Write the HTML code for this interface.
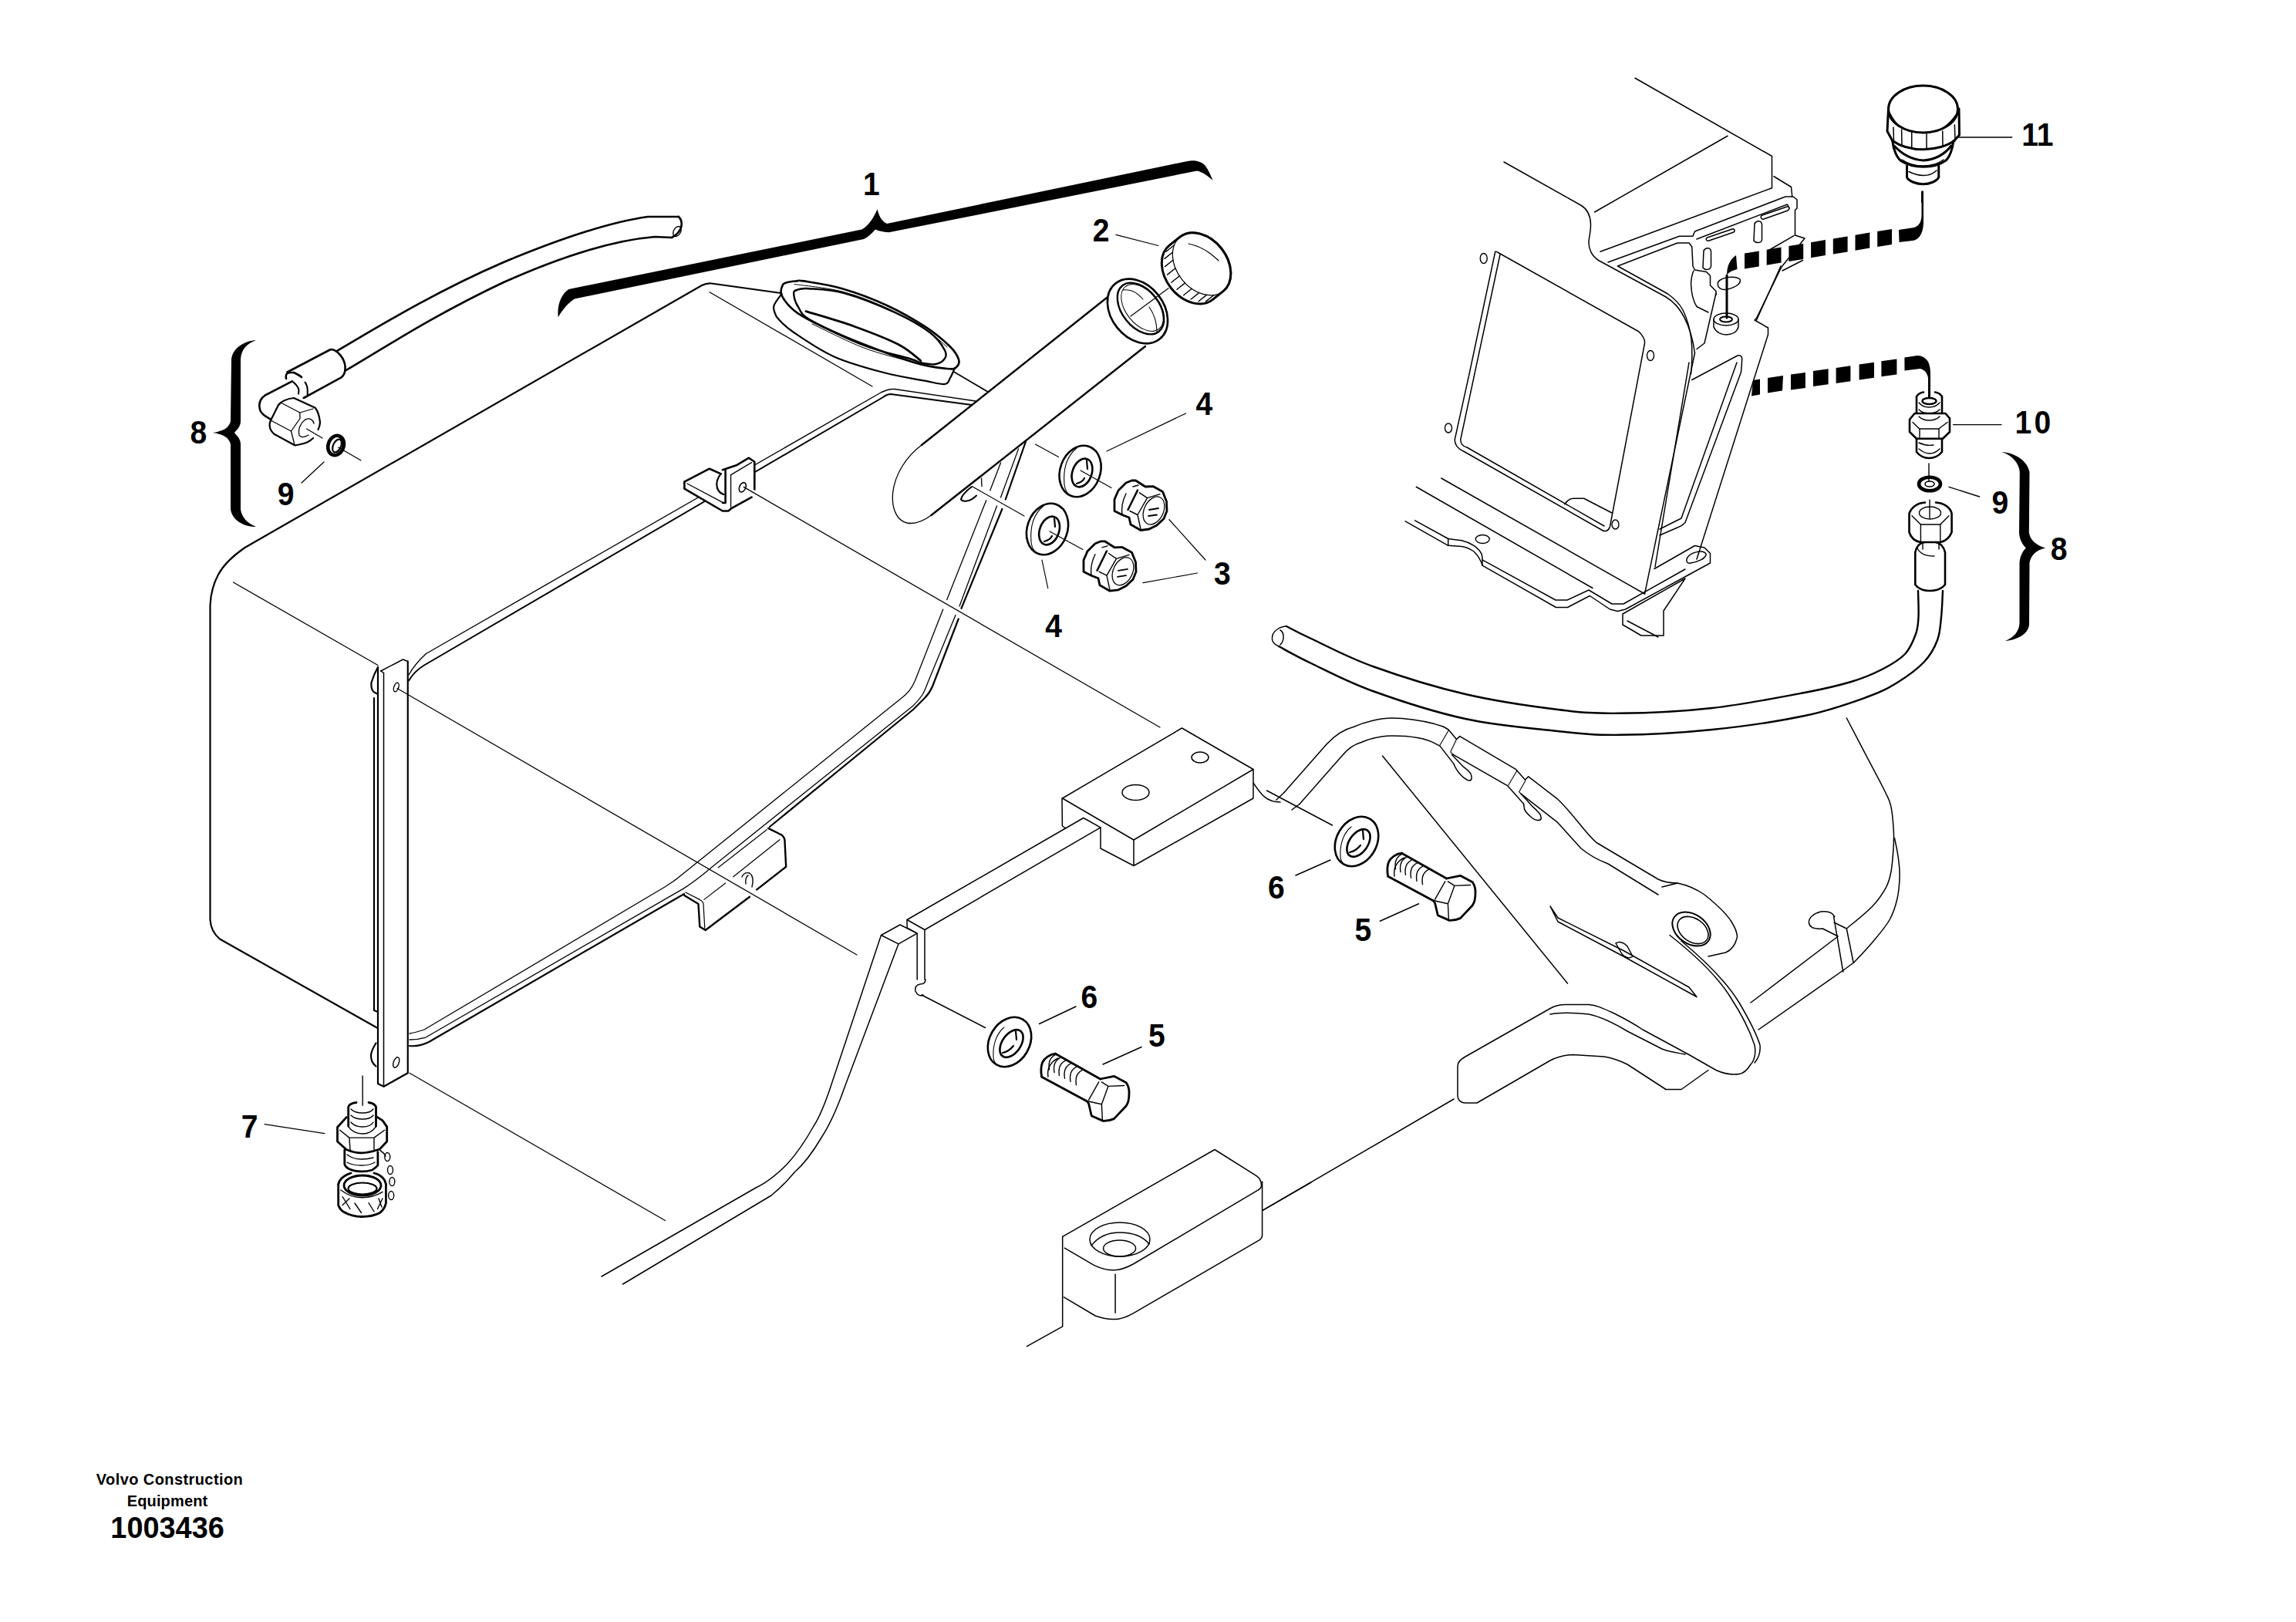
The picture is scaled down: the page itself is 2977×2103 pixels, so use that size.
<!DOCTYPE html>
<html><head><meta charset="utf-8"><style>
html,body{margin:0;padding:0;background:#fff;}
body{width:2977px;height:2103px;overflow:hidden;position:relative;}
svg{position:absolute;left:0;top:0;}
.t{font-family:"Liberation Sans",sans-serif;font-weight:bold;fill:#000;}
</style></head><body>
<svg width="2977" height="2103" viewBox="0 0 2977 2103" xmlns="http://www.w3.org/2000/svg">
<g fill="none" stroke="#000" stroke-linecap="round" stroke-linejoin="round">

<!-- brace 8 left -->
<path fill="#000" stroke="none" d="M332,441 C318,442 302,450 300,466 L299,546 C297,555 289,559 276,561 C289,563 297,567 299,576 L299,660 C301,676 318,683 332,683 C320,678 313,670 312,660 L312,576 C312,568 306,564 304,561 C306,558 312,554 312,546 L312,466 C313,452 320,446 332,441 Z"/>
<!-- hose left -->
<g stroke-width="2.6">
<path d="M436,455.6 C480,430 560,380 653,340 C720,312 790,288 840,281 L880,281"/>
<path d="M448.75,480 C500,450 560,410 653,366 C720,336 790,312 849,307 L871,308"/>
<path d="M880,281 C886,287 886,300 871,308"/>
<ellipse cx="878" cy="300" rx="4.5" ry="7" transform="rotate(30 878 300)" stroke-width="1.4"/>
<path d="M372.5,482.5 L428.75,453 C438,453 447,466 447.5,475 C448,482 446,487 442.5,489.4 L393.75,516"/>
<path d="M371,491 C370,484 372,482.5 381,483 C385,485 389,487 391,489"/>
<path d="M378.75,494.4 L343.75,512.5 C336,518 335,525 337.5,532.5 C340,538 346,541 351,543.75"/>
</g>


<!-- nut & washer left -->
<g stroke-width="2.2">
<path d="M361,525 C365,520 372,517 381,516 L408.75,528.75 C412,533 414,538 415,547.5 C415,551 414,554 412.5,557"/>
<path d="M406,568 C402,572 398,575 382.5,577.5 L355,562.5 C352,559 350,557 350,554 C349,550 350,547 351,545 L361,525"/>
</g>
<g stroke-width="1.3">
<path d="M365,522.5 L388.75,535 L406,530"/>
<path d="M388.75,535 L389,542.5 L377.5,559 L351,545"/>
<path d="M377.5,559 L382,577"/>
<path d="M396,544 C390,548 386,556 388,564 C390,568 395,567 400,564"/>
<path d="M396,544 C402,541 406,545 407,549"/>
<path d="M397.5,556 L418,568"/>
<path stroke-width="2" d="M378.75,494.4 C383,497 387,502 387.5,506 L387,510.6 M395.6,495.6 C398,499 398.75,503 398.75,506 L398.75,512.5"/>
<path d="M438.75,580 L468,597"/>
<path d="M420,599 L391,626"/>
</g>
<ellipse cx="435.6" cy="577.5" rx="10" ry="13" transform="rotate(20 435.6 577.5)" stroke-width="4.5"/>
<ellipse cx="437" cy="578" rx="5" ry="9" transform="rotate(25 437 578)" stroke-width="2.2"/>

<!-- TANK -->
<g stroke-width="2.2">
<!-- top left edge and corner -->
<path d="M910,370 C914,368 918,367 922.5,367.5 L1012.5,380"/>
<path d="M910,370 L317.5,710 C300,722 290,732 283,745 C276,758 273,772 272.5,785 L272.5,1192.5 C273,1200 276,1210 285,1217.5 L488.75,1332.5"/>
</g>
<g stroke-width="1.3">
<path d="M920,378.75 L1131,501"/>
<path d="M302.5,755 L490,862.5"/>
<path d="M531,1391.25 L862.5,1582.5"/>
<!-- leader lines from holes -->
<path d="M515,892.5 L1111,1238"/>
</g>
<!-- filler ring boss -->
<path stroke-width="2.2" d="M1013.5,381.0 C1011.9,383.4 1005.2,391.7 1003.7,395.7 C1002.2,399.7 1003.4,401.8 1004.4,404.9 C1005.4,407.9 1005.5,409.6 1009.6,414.0 C1013.7,418.4 1017.2,422.9 1029.2,431.0 C1041.2,439.1 1061.9,453.7 1081.5,462.4 C1101.1,471.1 1127.2,478.1 1146.8,483.3 C1166.4,488.5 1186.0,491.2 1199.0,493.7 C1212.0,496.1 1219.5,498.6 1225.0,498.0 C1230.5,497.4 1229.8,493.5 1232.0,490.0 C1234.2,486.5 1237.0,479.2 1238.0,477.0"/>
<path stroke-width="2.6" d="M1014.8,369.6 C1016.0,366.8 1018.0,366.9 1021.0,366.0 C1024.0,365.1 1029.5,364.7 1033.0,364.4 C1036.5,364.1 1032.2,362.8 1042.0,364.4 C1051.8,366.0 1074.1,369.0 1092.0,374.2 C1109.9,379.4 1131.6,387.5 1149.4,395.7 C1167.2,403.9 1185.3,414.3 1199.0,423.2 C1212.7,432.1 1224.4,442.2 1231.7,449.3 C1239.0,456.4 1241.6,461.6 1243.0,466.0 C1244.4,470.4 1242.5,474.0 1240.0,476.0 C1237.5,478.0 1237.0,479.0 1228.0,478.0 C1219.0,477.0 1206.1,476.3 1186.0,470.2 C1165.9,464.1 1129.4,450.2 1107.6,441.5 C1085.8,432.8 1068.4,424.5 1055.3,418.0 C1042.2,411.5 1036.2,408.2 1029.2,402.3 C1022.2,396.4 1015.9,388.1 1013.5,382.7 C1011.1,377.2 1013.5,372.4 1014.8,369.6 Z"/>
<path stroke-width="1" d="M1030.0,368.5 C1040.3,370.1 1072.2,372.9 1092.0,378.0 C1111.8,383.1 1131.2,390.9 1149.0,399.0 C1166.8,407.1 1185.8,418.0 1199.0,426.5 C1212.2,435.0 1223.2,446.1 1228.0,450.0"/>
<path stroke-width="2.4" d="M1029.2,381.4 C1028.9,377.7 1029.7,377.2 1033.0,376.0 C1036.3,374.8 1038.5,373.5 1048.8,374.2 C1059.0,374.9 1076.0,374.9 1094.5,380.0 C1113.0,385.1 1141.4,396.4 1159.9,404.9 C1178.4,413.4 1194.7,422.7 1205.6,431.0 C1216.5,439.3 1222.2,448.6 1225.2,454.5 C1228.2,460.4 1226.1,463.4 1223.9,466.3 C1221.7,469.2 1217.1,471.6 1212.1,472.2 C1207.1,472.8 1199.2,471.4 1193.8,470.2 C1188.4,469.0 1191.7,468.7 1179.5,465.0 C1167.3,461.3 1142.0,456.3 1120.7,448.0 C1099.4,439.7 1065.7,423.6 1051.4,415.3 C1037.1,407.0 1038.7,403.6 1035.0,398.0 C1031.3,392.4 1029.5,385.1 1029.2,381.4 Z"/>
<path stroke-width="2.8" d="M1044.9,403.6 C1055.4,406.9 1087.6,416.0 1107.6,423.2 C1127.6,430.4 1150.7,439.3 1165.1,446.7 C1179.5,454.1 1189.0,464.1 1193.8,467.6"/>
<path stroke-width="1" d="M1053.0,420.0 C1064.2,425.2 1098.8,442.9 1120.0,451.0 C1141.2,459.1 1166.7,464.8 1180.0,468.5 C1193.3,472.2 1196.7,472.2 1200.0,473.0"/>
<path stroke-width="1.8" d="M1237.5,482.5 L1280,507.5"/>
<!-- front flange frame top -->
<g stroke-width="1.4">
<path d="M552.5,847.5 L1142.5,508.75 C1148,506 1154,504 1160,504.5 L1265,520"/>
<path d="M530,875 C535,866 541,858 552.5,847.5"/>
</g>
<g stroke-width="2.0">
<path d="M530,882.5 C535,874 541,868 550,862.5 L1145,515 C1149,512 1152,511 1155,511 L1260,525"/>
</g>
<!-- flange frame right descending -->
<g stroke-width="1.3">
<path d="M1297.5,600 L1283.75,636"/>
<path d="M1278.75,648.75 L1227.75,777.5"/>
<path d="M1222.75,790 L1186.5,882.5 C1182,893 1176,900 1169,905 L878,1139 C873,1143 868,1146 862,1150 L550,1335 C544,1337 538,1339 531,1340"/>
<path d="M1320.6,581.9 L1297.5,645"/>
<path d="M1292.5,656 L1244,786"/>
<path d="M1239,797.5 L1204,882.5 C1201,890 1199,896 1196.5,900 C1192,907 1188,911 1184,915 L925.8,1122 C915,1131 905,1140 887,1151.6 L552,1345 C545,1347 538,1348 531,1348"/>
</g>
<g stroke-width="2.2">
<path d="M1330,572.5 L1303.75,647.5"/>
<path d="M1299.4,660 L1246.5,788.75"/>
<path d="M1242.75,802.5 L1209,890 C1206,897 1203,901 1199,905 L1184,920 L998,1072"/>
</g>
<path stroke-width="1.3" d="M1272.5,620 L1273,630.6"/>
<path stroke-width="2" d="M1260,631 C1252,637 1247,642 1246,647.5 C1248,651 1258,651 1266,642.5"/>
<path stroke-width="1.2" d="M1261,631 L1328,669"/>
<!-- left plate -->
<g stroke-width="2.2">
<path d="M528.75,857.5 L528.75,1391.25 L497.5,1408.75 L490,1405 L490,865"/>
<path d="M490,865 C486,872 483,880 481.5,885 C481,890 482,895 485,897.5 L490,900"/>
<path d="M485,905 L485,1310 L490,1312"/>
<path d="M487.5,1352.5 C484,1358 481.5,1364 481,1367.5 C481,1374 482,1378 487.5,1382.5"/>
</g>
<g stroke-width="1.5">
<path d="M493.75,870 L522.5,855 L528.75,857.5"/>
<path d="M497.5,872.5 L497.5,1408.75"/>
<path d="M493.75,870 L497.5,872.5"/>
</g>
<ellipse cx="513.75" cy="891" rx="3" ry="6" transform="rotate(20 513.75 891)" stroke-width="1.4"/>
<ellipse cx="513.75" cy="1377.5" rx="3.5" ry="7" transform="rotate(20 513.75 1377.5)" stroke-width="1.4"/>
<!-- frame lower-left -->
<path stroke-width="2.2" d="M531,1356 C540,1357 548,1355 556,1351 L887,1159"/>
<path stroke-width="1.2" d="M931.4,1124.8 L994.2,1075.8"/>
<!-- bracket on top frame -->
<polygon fill="#fff" stroke="none" points="887.4,624.7 919.9,607.7 934.7,614.4 936.9,609.2 954.7,603.3 971,593.7 978.3,598.8 978.3,634.4 974.6,644.7 948.8,658.8 944.3,662.5 936.9,662.5 887.4,633.6"/>
<g stroke-width="2.6">
<path d="M887.4,624.7 L919.9,607.7 L934.7,614.4"/>
<path d="M887.4,624.7 L887.4,633.6 L936.9,662.5 L944.3,662.5 L948.8,658.8 L974.6,644.7"/>
<path d="M936.9,609.2 L954.7,603.3 L971,593.7 L978.3,598.8 L978.3,634.4"/>
<path d="M940.6,610 L940.6,652 L937,652"/>
</g>
<g stroke-width="1.3">
<path d="M891,627 L937,651.4"/>
<path d="M947.3,615.9 L974.6,599.6"/>
<path d="M947.6,615.9 L947.6,657.3"/>
<path d="M964.3,631.4 L1504,943"/>
</g>
<path stroke-width="2.2" d="M934.7,614.4 C930,620 928,626 930,633 C932,638 935,640 938.4,641"/>
<ellipse cx="962.8" cy="631.8" rx="4" ry="6.5" transform="rotate(25 962.8 631.8)" stroke-width="1.6"/>


<!-- filler pipe -->
<g stroke-width="2.4">
<path d="M1435,386 L1195,577"/>
<path d="M1485,449 L1207.5,668"/>
</g>
<path stroke-width="1.3" d="M1195,577 C1175,592 1160,615 1157.5,640 C1156,660 1163,675 1176,678 C1186,680 1198,675 1207.5,668"/>
<ellipse cx="1475" cy="403.5" rx="46" ry="34" transform="rotate(51.5 1475 403.5)" stroke-width="2.6"/>
<ellipse cx="1479" cy="400" rx="38" ry="24" transform="rotate(51.5 1479 400)" stroke-width="2.4"/>
<ellipse cx="1481" cy="399" rx="35" ry="21" transform="rotate(51.5 1481 399)" stroke-width="1"/>
<path stroke-width="1.1" d="M1456,376 C1465,375 1472,377 1482,388 M1490,398 C1497,408 1500,420 1500,430"/>
<path stroke-width="1.2" d="M1466,410 L1515,373.75"/>
<path stroke-width="1.2" d="M1446.9,304.4 L1501.9,318.5"/>
<!-- cap -->
<path stroke-width="3" d="M1516.4,317.9 L1530.5,306.8 A45,33 51.5 0 1 1586.5,377.2 L1572.5,388.4 A45,33 51.5 0 1 1516.4,317.9"/>
<ellipse cx="1558.5" cy="342" rx="45" ry="33" transform="rotate(51.5 1558.5 342)" stroke-width="1.2"/>
<path stroke-width="1.4" d="M1582.3,379.9 l-10.5,8.4 M1574.0,382.5 l-10.5,8.4 M1564.5,382.4 l-10.5,8.4 M1554.7,379.6 l-10.5,8.4 M1545.2,374.3 l-10.5,8.4 M1536.5,366.9 l-10.5,8.4 M1529.3,357.8 l-10.5,8.4 M1524.0,347.7 l-10.5,8.4 M1521.0,337.2 l-10.5,8.4 M1520.5,327.0 l-10.5,8.4 M1522.5,317.8 l-10.5,8.4 M1526.9,310.2 l-10.5,8.4"/>
<path stroke-width="1.2" d="M1541,316 C1550,318 1560,322 1567.5,327.5 C1572,331 1576,334 1580,338"/>
<!-- washers 4 -->
<g>
<ellipse cx="1400.6" cy="611" rx="26" ry="34" transform="rotate(20 1400.6 611)" stroke-width="2.6"/>
<path stroke-width="1.1" d="M1396,581 C1385,590 1378,605 1380,628 C1381,636 1384,640 1388,642"/>
<ellipse cx="1403" cy="613" rx="12.5" ry="19" transform="rotate(20 1403 613)" stroke-width="2.6"/>
<path stroke-width="2.2" d="M1409,597 L1410,608 M1396,627 C1400,626 1404,624 1406,620"/>
<ellipse cx="1358" cy="686" rx="26" ry="34" transform="rotate(20 1358 686)" stroke-width="2.6"/>
<path stroke-width="1.1" d="M1353,656 C1342,665 1335,680 1337,703 C1338,711 1341,715 1345,717"/>
<ellipse cx="1360.6" cy="688" rx="12.5" ry="19" transform="rotate(20 1360.6 688)" stroke-width="2.6"/>
<path stroke-width="2.2" d="M1367,672 L1368,683 M1354,702 C1358,701 1362,699 1364,695"/>
</g>
<g stroke-width="1.2">
<path d="M1342.5,576 L1372.5,592.5"/>
<path d="M1401,610 L1441,632.5"/>
<path d="M1361,689 L1404,712.5"/>
<path d="M1435,585 L1537.5,536"/>
<path d="M1351,726 L1358.75,762.75"/>
<path d="M1516,673.75 L1563,726"/>
<path d="M1482,755.6 L1552.5,743"/>
</g>
<polygon stroke-width="2.8" points="1445.0,662.5 1445.0,647.5 1450.0,636.0 1460.0,626.0 1467.5,623.0 1472.5,623.0 1485.0,631.0 1495.0,630.6 1507.5,637.5 1512.5,650.0 1513.0,662.5 1509.0,672.5 1500.0,681.0 1490.0,686.0 1479.0,687.5 1466.0,680.0 1464.0,671.0 1455.0,667.5"/>
<path stroke-width="2.4" d="M1462.5,661.0 L1475.0,635.6"/>
<path stroke-width="1.4" d="M1477.5,638.8 L1487.5,645.6 L1504.0,640.6 M1487.5,645.6 L1475.0,667.5 L1465.0,662.5 M1475.0,667.5 L1479.0,686.0 M1460.0,640.0 C1455.0,650.0 1454.0,660.0 1455.0,667.5 M1469.0,631.0 L1476.0,629.0"/>
<ellipse cx="1496" cy="662" rx="12.5" ry="19" transform="rotate(25 1496 662)" stroke-width="1.3"/>
<path stroke-width="1.8" d="M1490.0,661.0 L1502.0,659.0 M1489.0,669.0 L1500.0,667.5"/>
<polygon stroke-width="2.8" points="1405.0,741.2 1405.0,726.2 1410.0,714.8 1420.0,704.8 1427.5,701.8 1432.5,701.8 1445.0,709.8 1455.0,709.4 1467.5,716.2 1472.5,728.8 1473.0,741.2 1469.0,751.2 1460.0,759.8 1450.0,764.8 1439.0,766.2 1426.0,758.8 1424.0,749.8 1415.0,746.2"/>
<path stroke-width="2.4" d="M1422.5,739.8 L1435.0,714.4"/>
<path stroke-width="1.4" d="M1437.5,717.5 L1447.5,724.4 L1464.0,719.4 M1447.5,724.4 L1435.0,746.2 L1425.0,741.2 M1435.0,746.2 L1439.0,764.8 M1420.0,718.8 C1415.0,728.8 1414.0,738.8 1415.0,746.2 M1429.0,709.8 L1436.0,707.8"/>
<ellipse cx="1456" cy="740.75" rx="12.5" ry="19" transform="rotate(25 1456 740.75)" stroke-width="1.3"/>
<path stroke-width="1.8" d="M1450.0,739.8 L1462.0,737.8 M1449.0,747.8 L1460.0,746.2"/>


<!-- brace 1 -->
<path fill="#000" stroke="none" d="M723.75,411.25 C722,395 728,381 737.5,375 L1117.5,297.5 C1127,292 1133,282 1137.5,271.25 C1140,282 1145,288 1150,290 L1539.7,209 C1550,207 1558,210 1562,214 C1567,220 1570,228 1572.6,234 C1567,229 1560,223 1552,221.5 L1270,278 L1152.5,301.25 C1145,301 1138,299 1135,297.5 C1130,303 1125,308 1120,310 L745,387.5 C738,392 730,400 723.75,411.25 Z"/>
<!-- RIGHT CAB STRUCTURE -->
<g stroke-width="1.5">
<path d="M2120,101.25 L2297.5,202.5 L2297.5,243.75 L2075,326.25"/>
<path d="M2067.5,275 L2240,176.25"/>
<path d="M1950,210 L2050,266.25 C2058,271 2062,280 2062.5,290 C2063,300 2060,308 2060,315 C2060,323 2064,332 2072.5,337.5 L2160,385 C2180,397 2192,420 2197.5,457.5"/>
<path d="M2300,228.75 L2322.5,242.5 L2323.75,255"/>
<path d="M2085,340 L2177.5,306.25 L2195,306.25 L2197.5,300 L2315,255 L2325,255 L2330,258.75 L2330,270 L2327.5,272.5 L2327.5,305"/>
<path d="M2097.5,345 L2175,315 L2190,315 L2193.75,320 L2195,345 L2197.5,350 L2212.5,352.5 L2217.5,357.5 L2217.5,370 L2225,377.5 L2225,382.5"/>
<path d="M2200,310 L2317.5,265 L2320,270"/>
<path d="M2097.5,345 L2162.5,381 C2172,388 2178,394 2182,402 C2187,412 2191,425 2193,440 C2194.5,455 2194,470 2192.5,485"/>
<path d="M2215,405 L2200,397.5 C2195,390 2193,380 2192.5,367.5 C2193,360 2194,355 2196,351"/>
<path d="M2225,380 L2210,445 L2200,452.5"/>
<path d="M2327.5,305 L2340,309 L2310,346 L2277.5,412.5 L2275,415 L2292.5,425 L2292.5,433.75 L2200,725"/>
<path d="M2309,345 L2277.5,415"/>
<path d="M2292.5,325 L2326,305.6"/>
<path d="M2311,351 L2337.5,337.5"/>
<path d="M2227.5,366 C2232,359 2250,357 2256,362 C2258,367 2252,372 2240,375 C2232,377 2226,373 2227.5,366 Z"/>
<path d="M2213.75,308 L2246,297 C2249,296 2250,299 2248,301 L2216,312 C2212,313 2211,309 2213.75,308 Z"/>
<path d="M2285,279 L2317,268 C2320,267 2321,271 2318,273 L2287,284 C2283,285 2282,280 2285,279 Z"/>
<path d="M2209,325 C2212,320 2218,321 2218.5,326 L2218.5,345 C2218,350 2211,351 2208,347 Z"/>
<path d="M2275,290 C2278,285 2284,286 2284.5,291 L2284.5,311 C2284,315 2277,316 2274,312 Z"/>
<!-- panel -->
<path d="M1938.75,326.25 L1905,485 L1886.25,570 C1886,576 1890,582 1897.5,585 L2077.5,687.5 C2082,690 2086,688 2087.5,682.5 L2132.5,445 C2133,440 2130,435 2125,430 L1942.5,327.5 C1940,326 1939,326 1938.75,326.25"/>
<path d="M1945,330 L1893.75,570 C1894,575 1897,579 1902,580 L2080,682"/>
<path d="M2028.75,653.75 C2032,649 2036,646.25 2040,646.25 L2053.75,646.25 L2090,665"/>
<!-- bracket post & arm -->
<path d="M2197.5,457.5 L2132.5,770"/>
<path d="M2190,470 L2146,735"/>
<path d="M2193.75,492.5 L2252.5,461.25 C2256,460 2259,462 2258.75,466 L2257.5,482.5 L2185,677.5 C2182,681 2178,683 2175,684 L2152,694"/>
<path d="M2252,470 L2180,672 L2152,686"/>
<path d="M2145,737.5 L2197.5,707.5 L2210,710 L2217.5,717.5 L2217.5,730 L2190,745"/>
<path d="M2187,725 C2190,716 2208,712 2212,718 C2213,724 2200,729 2192,730 C2188,731 2186,728 2187,725 Z"/>
<!-- base plate -->
<path d="M1868.75,620 L2132.5,770"/>
<path d="M1836.25,631.25 L2065,762.5"/>
<path d="M1822.2,675.8 L1877.7,707.3 M1834.7,674.9 L1877.7,698.5 L1877.7,707.3 M1922,725.8 L1922,733.1"/>
<path d="M1877.7,698.5 L1888.8,699.9 L1895.2,700.8 C1900,702 1904,703 1911,707.3 C1915,710 1919,714 1921.1,718.4 C1922,721 1922,724 1922,725.8 L2017,778 L2032,778 L2060,765 L2090,783 L2105,783 L2185,738"/>
<path d="M1877.7,707.3 L1895,708.5 C1900,709 1905,711 1911,715 C1915,719 1920,726 1922,733.1 L2017.5,787.5 L2032.5,787.5 L2061.25,772.5 L2087.5,790 L2097.5,792.5 L2107.5,790 L2190,745"/>
<path d="M2104,796 L2185,750 L2157,792 L2157,824 L2128,824 L2104,810 Z"/>
<path d="M2110,805 L2150,826"/>
</g>
<ellipse cx="1923.75" cy="335" rx="4.5" ry="6.5" stroke-width="1.4"/>
<ellipse cx="2140" cy="461" rx="4.5" ry="6.5" stroke-width="1.4"/>
<ellipse cx="1878" cy="555" rx="4.5" ry="6" stroke-width="1.4"/>
<ellipse cx="2094.5" cy="680" rx="4.5" ry="6" stroke-width="1.4"/>
<ellipse cx="1922.3" cy="699" rx="9" ry="5.5" stroke-width="1.4"/>
<!-- washer on cab -->
<g stroke-width="1.5">
<ellipse cx="2238" cy="414" rx="16" ry="8"/>
<ellipse cx="2238" cy="414" rx="8" ry="3.5" stroke-width="2"/>
<path d="M2222,414 L2222,424 C2225,431 2232,434 2238,434 C2245,434 2252,431 2254,424 L2254,414"/>
</g>
<path stroke-width="3" d="M2239,357 L2239,412"/>
<!-- dashed upper -->
<g fill="#000" stroke="none">
<path d="M2239,357 C2239,345 2243,336 2251,331 L2252.5,349 C2246,351 2241,353 2239,357 Z"/>
<polygon points="2262,328.5 2280.75,325.4 2280.75,345.4 2262,348.5"/>
<polygon points="2290.7,323.8 2309.5,320.6 2309.5,340.6 2290.7,343.8"/>
<polygon points="2319.4,319 2338.2,315.9 2338.2,335.9 2319.4,339"/>
<polygon points="2348.1,314.3 2366.9,311.1 2366.9,331.1 2348.1,334.3"/>
<polygon points="2376.8,309.5 2395.6,306.4 2395.6,326.4 2376.8,329.5"/>
<polygon points="2405.5,304.8 2424.3,301.6 2424.3,321.6 2405.5,324.8"/>
<polygon points="2434.2,300 2453,296.9 2453,316.9 2434.2,320"/>
<path d="M2462,298 L2482,295 C2488,293 2491,288 2491.5,280 L2491.5,255 L2494,255 L2494,290 C2493,305 2487,311 2480,312 L2462.5,314 Z"/>
</g>
<path stroke-width="3" d="M2492.5,248.75 L2492.5,262"/>
<!-- dashed lower -->
<g fill="#000" stroke="none">
<polygon points="2273,493 2282,491.5 2282,511.5 2271,513.5"/>
<polygon points="2292,490 2312,487 2311,506.5 2292,509.5"/>
<polygon points="2322,485.5 2340.9,482.9 2340.9,502.9 2322,505.5"/>
<polygon points="2351,481 2370.6,478.3 2370.6,498.3 2351,501"/>
<polygon points="2380.6,476.9 2399.4,474.2 2399.4,494.2 2380.6,496.9"/>
<polygon points="2410.6,472.4 2430,469.7 2430,489.7 2410.6,492.4"/>
<polygon points="2439.4,468.2 2459.4,465.5 2459.4,485.5 2439.4,488.2"/>
<path d="M2469.4,463.5 L2486,461 C2492,461 2497,464 2500,469 C2502,473 2503,478 2503,485 L2503,516 L2500,516 L2500,490 C2499,484 2496,480 2490,478 L2469.5,480.5 Z"/>
</g>
<!-- item 11 -->
<g stroke-width="3">
<ellipse cx="2493.5" cy="141.5" rx="45" ry="30.5"/>
<path d="M2448.5,141 L2447,170 L2453.75,182.5 C2463,189 2478,193.75 2493.75,193.75 C2510,193.75 2525,189 2533.75,182.5 L2540.5,175 L2540,141"/>
<path d="M2453.75,182.5 C2455,195 2460,205 2465,208.75 C2475,215 2485,216.25 2493.75,216.25 C2503,216.25 2515,214 2523.75,207.5 C2528,203 2531,196 2533,182.5"/>
<path stroke-width="3" d="M2456,189 C2468,202 2480,207 2493.75,208 C2508,207 2520,202 2530,189"/>
<path stroke-width="1.4" d="M2466,207 C2475,213 2485,215 2493.75,215 C2503,215 2512,213 2520,207"/>
<path d="M2472.5,215 L2472.5,230 C2475,235 2485,238.75 2493.75,238.75 C2502,238.75 2511,235 2513.75,230 L2513.75,215"/>
</g>
<g stroke-width="1.5">
<path d="M2475,222.5 C2482,226 2488,227.5 2493.75,227.5 C2500,227.5 2506,226 2511,221"/>
<path d="M2455,165 L2455.5,183 M2465.6,168 L2466,189 M2478.75,171 L2478.75,192 M2498,172.5 L2498,193.5 M2518.75,170 L2519,189 M2534.4,162 L2535,183"/>
<path d="M2450,146 C2455,156 2460,162 2466,166 C2478,171 2486,172 2493.75,172.5 C2505,172.5 2515,169 2522,164 C2530,158 2534,152 2536,149"/>
<path d="M2538.75,178 L2608.75,178"/>
</g>
<!-- item 10 -->
<g stroke-width="2.6">
<path d="M2485,536 L2485,514 C2487,511 2490,509 2494,508.5 M2509,508.5 C2513,509 2516,511 2518,514 L2518,536"/>
<path d="M2476,544 L2482.5,536 L2522.5,536 L2528,542.5 L2528,560 L2519,568.75 L2485,568.75 L2476,560 Z"/>
<path d="M2485,568.75 L2485,586 C2490,592 2496,594 2501,594 C2507,594 2513,592 2518,586 L2518,568.75"/>
<ellipse cx="2501.5" cy="520" rx="9" ry="4" stroke-width="2.4"/>
</g>
<g stroke-width="1.4">
<path d="M2488,522 C2492,527 2497,528 2501,528 C2506,528 2511,527 2515,522"/>
<path d="M2488,531 C2492,535 2497,536 2501,536 C2506,536 2511,535 2515,531"/>
<path d="M2488,540 C2492,544 2497,545 2501,545 C2506,545 2511,544 2515,540"/>
<path d="M2480,547.5 L2488.75,556 L2513.75,556 L2525,547.5"/>
<path d="M2489,556 L2489,567.5 M2514,556 L2514,567.5"/>
<path d="M2488,574 C2494,577 2500,578 2507,577"/>
<path d="M2488,582 C2494,587 2500,588 2502,588 C2508,588 2512,585 2515,582"/>
<path d="M2532.5,550.6 L2595,550.6"/>
<path d="M2501,601 L2501,624"/>
<path d="M2527,631.3 L2566.6,644"/>
<path d="M2502,648 L2502,671.5"/>
</g>
<ellipse cx="2502" cy="627.5" rx="14" ry="8.8" stroke-width="4.6"/>
<ellipse cx="2502" cy="627.5" rx="6" ry="3.5" stroke-width="1.6"/>
<!-- hose 8 right: nut, ferrule, hose -->
<g stroke-width="2.6">
<path d="M2475.5,666 L2475.5,690 C2478,698 2484,702 2490.4,703 L2515.8,703 C2522,702 2528,697 2530.6,690 L2530.6,666 C2529,658 2520,652 2510,651.5 M2496,651.5 C2486,652 2478,658 2475.5,666"/>
<path d="M2483.3,716 L2483.3,758 C2488,764 2495,766 2502,766 C2510,766 2517,764 2522,758 L2522,716 C2520,708 2515,704 2510,703 M2495,703 C2489,704 2485,708 2483.3,716"/>
</g>
<g stroke-width="1.4">
<path d="M2479,668.7 L2490.4,680 L2515.8,680 L2527,668.7"/>
<path d="M2490.4,680 L2490.4,702.6 M2515.8,680 L2515.8,702.6"/>
<ellipse cx="2502.5" cy="665" rx="14" ry="8"/>
<path d="M2486,711 C2490,718 2496,721 2508,721"/>
<path d="M2493,705 L2493,712 M2514,705 L2514,712"/>
</g>
<g stroke-width="2.4">
<path d="M2487.0,766.0 C2487.1,771.7 2488.0,790.7 2487.5,800.0 C2487.0,809.3 2486.9,814.0 2484.0,822.0 C2481.1,830.0 2477.3,840.3 2470.0,848.0 C2462.7,855.7 2451.7,862.0 2440.0,868.0 C2428.3,874.0 2416.7,879.0 2400.0,884.0 C2383.3,889.0 2370.0,892.3 2340.0,898.0 C2310.0,903.7 2260.0,913.5 2220.0,918.0 C2180.0,922.5 2133.3,924.5 2100.0,924.8 C2066.7,925.1 2053.3,924.1 2020.0,920.0 C1986.7,915.9 1940.0,909.3 1900.0,900.0 C1860.0,890.7 1813.3,876.0 1780.0,864.0 C1746.7,852.0 1718.7,836.7 1700.0,828.0 C1681.3,819.3 1673.3,814.7 1668.0,812.0"/>
<path d="M2519.0,766.0 C2518.7,771.7 2518.2,789.3 2517.0,800.0 C2515.8,810.7 2515.7,820.3 2512.0,830.0 C2508.3,839.7 2503.7,848.8 2495.0,858.0 C2486.3,867.2 2472.5,877.3 2460.0,885.0 C2447.5,892.7 2440.0,896.8 2420.0,904.0 C2400.0,911.2 2373.3,921.0 2340.0,928.0 C2306.7,935.0 2260.0,941.9 2220.0,946.0 C2180.0,950.1 2133.3,952.5 2100.0,952.8 C2066.7,953.1 2053.3,951.5 2020.0,948.0 C1986.7,944.5 1940.0,940.7 1900.0,932.0 C1860.0,923.3 1813.3,908.0 1780.0,896.0 C1746.7,884.0 1720.3,869.7 1700.0,860.0 C1679.7,850.3 1665.0,841.7 1658.0,838.0"/>
</g>
<path stroke-width="1.5" d="M1668,812 C1660,812 1651,818 1650,824 C1648,831 1652,836 1658,838 M1660,817 C1665,820 1666,830 1660,836"/>
<!-- brace 8 right -->
<path fill="#000" stroke="none" d="M2595.5,586 C2610,587 2628,595 2631.5,612 L2630.8,690 C2632,700 2640,707 2652,710.4 C2640,713 2633,720 2631.5,730 L2631,810 C2630,822 2615,830 2600,831 C2612,826 2618,818 2618.5,808 L2618.5,730 C2619,721 2623,714 2627,710.5 C2623,707 2618.5,700 2618,691 L2618.8,612 C2618,600 2608,590 2595.5,586 Z"/>


<!-- LOWER FRAME -->
<g stroke-width="1.5">
<!-- upper block -->
<path d="M1377.5,1035 L1532.5,944 L1625,997.5 L1470,1089 Z"/>
<path d="M1377,1035 L1377.4,1071 L1381.3,1073.6 M1427,1072.9 L1427,1100 L1470,1122.5 L1470,1089 M1470,1122.5 L1625,1035 L1625,997.5"/>
<ellipse cx="1472.5" cy="1027.5" rx="17.5" ry="10"/>
<ellipse cx="1556" cy="982" rx="11" ry="7"/>
<!-- lower block -->
<path d="M1377.7,1603.3 L1575,1490.5 L1629.2,1524.7 C1634,1528 1635.6,1532 1635.6,1537.7 C1635,1541 1633,1542 1631,1543.2 L1470.1,1638.5 C1462,1643 1452,1646.8 1444.2,1646.8 C1435,1646.8 1426,1644 1418.4,1640.3 L1380.4,1618.1"/>
<path d="M1636.6,1532.1 L1636.6,1602.4 C1636,1606 1634,1607.5 1631,1608.9 L1470.1,1702.3 C1462,1707 1452,1710.6 1444,1710.6 C1435,1710.6 1426,1708 1420.2,1706 L1379.5,1681.9"/>
<path d="M1377.7,1603.3 L1377.7,1719.8 L1331.4,1745.7"/>
<path d="M1446.1,1652.3 L1446.1,1702.3"/>
<path d="M1637.5,1569.1 L1700,1533"/>
<path d="M1637.5,1569.1 L1885,1425"/>
<ellipse cx="1452" cy="1607" rx="39" ry="22"/>
<path d="M1415,1615 C1425,1602 1437,1598 1452,1598 C1468,1598 1482,1603 1490,1613"/>
<ellipse cx="1451.6" cy="1618.6" rx="21" ry="10.5"/>
<!-- frame big piece -->
<path d="M1665,1027.5 L1720,965 C1732,952 1745,945 1755,942.5 C1770,936 1790,931 1805,931 C1830,931 1850,936 1860,938.6 L1871.2,942 L1878.1,946 L1888.5,958.5 L1892.8,954.6 L1965.3,997.3 L1977.4,1011.1 L1981.7,1006.8 L2019.7,1036.2 C2040,1055 2055,1080 2070,1092.5 L2150,1140 C2160,1145 2168,1145 2175,1145"/>
<path d="M1685,1042.5 L1740,980 C1748,970 1756,965 1765,962.5 C1778,957 1792,954 1805,954 C1830,954 1850,958 1860,963.7 L1866.9,967.1 L1885,990.4 M1884.2,978.3 L1954.9,1018.9 L1975.6,1042.2 M1972.2,1029.3 L2019.7,1066.4 L2050,1100 C2062,1110 2072,1115 2085,1120 L2150,1160"/>
<path stroke-width="1.1" d="M1888.5,958.5 L1880.7,974.9 L1884.2,978.3 M1978,1012 L1969.6,1026.7 L1972.2,1029.3 M1878.1,947.3 L1866.9,966.2 M1967,999 L1955.8,1018"/>
<path d="M1885,990.4 C1887,996 1890,1001 1897.1,1007.7 C1900,1010 1904,1012.5 1906,1012 C1909,1011 1908.5,1006 1906.6,1002.5 C1903,998 1900,996 1897.1,993.9 L1882.4,978.3"/>
<path d="M1975.6,1042.2 L1976.5,1049.1 C1978,1053 1980,1055 1983.4,1057.7 C1986,1060 1989,1063 1992,1063.3 C1996,1064 1999,1063 1998.1,1060 C1998,1057 1997,1056 1996.4,1055.1 C1993,1051 1990,1048 1986.9,1045.6 L1972.2,1029.3"/>
<path d="M1792.5,980 L2032.5,1275"/>
<path d="M2155,1150 L2175,1145 C2190,1148 2200,1153 2210,1160 C2225,1172 2238,1184 2245,1195 C2250,1203 2252.5,1208 2252.5,1215 C2250,1225 2245,1232 2237.5,1235 L2215,1240"/>
<ellipse cx="2193" cy="1204.5" rx="27" ry="19" transform="rotate(35 2193 1204.5)" stroke-width="2"/>
<ellipse cx="2195" cy="1206" rx="22" ry="15" transform="rotate(35 2195 1206)" stroke-width="1.6"/>
<path d="M2165,1212.5 C2200,1240 2230,1270 2245,1295 C2260,1318 2270,1340 2275,1355 C2277,1365 2275,1375 2270,1380 C2265,1388 2260,1392 2255,1392.5 C2245,1394 2235,1392 2225,1387.5 L2190,1367.5 L2130,1335 C2115,1325 2105,1320 2095,1315 C2080,1308 2070,1303 2060,1302.5 L2030,1302.5 C2022,1302.5 2016,1304 2010,1307.5 L1900,1370 C1893,1374 1890,1377 1890,1382 L1890,1420 C1890,1427 1895,1430 1900,1430 L1915,1430 L2010,1375 C2020,1370 2030,1367.5 2040,1367.5 L2080,1370 C2092,1372 2100,1375 2110,1380 L2160,1412.5 L2180,1412.5 L2215,1387.5"/>
<path d="M2180,1220 C2210,1245 2238,1272 2255,1300 C2268,1322 2278,1342 2282,1355 C2283,1365 2280,1372 2275,1378"/>
<path d="M2010,1315 C2025,1312 2040,1313 2060,1315 C2075,1318 2090,1325 2110,1337 L2155,1360 C2165,1364 2175,1365 2185,1367"/>
<path d="M2010,1175 L2020,1190 L2105,1232.5 L2190,1280 L2200,1292.5 L2190,1287 L2105,1240 L2020,1195 Z"/>
<path d="M2095,1223 C2100,1220 2106,1222 2110,1227 L2117,1240 C2113,1243 2107,1242 2103,1237 Z"/>
<path d="M2394.3,931.0 C2398.4,938.8 2410.2,961.4 2418.7,977.7 C2427.2,994.0 2439.8,1017.2 2445.3,1028.7 C2450.9,1040.2 2450.3,1038.3 2452.0,1046.5 C2453.7,1054.7 2454.8,1068.7 2455.3,1077.6 C2455.8,1086.5 2455.6,1091.3 2455.0,1100.0 C2454.4,1108.7 2453.6,1121.5 2452.0,1130.0 C2450.4,1138.5 2449.4,1143.3 2445.3,1150.8 C2441.2,1158.3 2436.1,1166.3 2427.6,1175.2 C2419.1,1184.1 2399.9,1199.2 2394.3,1204.0"/>
<path d="M2456.4,1086.5 C2457.2,1090.4 2459.9,1101.9 2461.0,1110.0 C2462.1,1118.1 2463.3,1125.8 2463.1,1135.0 C2462.9,1144.2 2462.2,1155.3 2460.0,1165.0 C2457.8,1174.7 2455.2,1183.5 2449.8,1193.0 C2444.4,1202.5 2435.4,1212.7 2427.6,1221.9 C2419.8,1231.2 2407.3,1244.1 2403.2,1248.5"/>
<path d="M2378.7,1188.6 C2376,1183 2370,1181 2361,1182 C2352,1184 2345,1190 2345.4,1196 C2346,1202 2352,1205 2363.2,1204 L2383.2,1214 L2270,1300"/>
<path d="M2403,1248.5 L2390,1258 L2280,1335"/>
<path d="M2377.6,1188.6 L2389.8,1260 M2394.3,1204 L2403.2,1248.5 M2378,1196 L2394.3,1204"/>
<!-- frame rail lower-left -->
<path d="M1142.5,1212.5 L1080,1400 C1072,1425 1065,1445 1055,1460 C1045,1478 1032,1497 1020,1510 C1008,1522 995,1533 980,1540 L780,1655"/>
<path d="M1165,1223.8 L1095,1410 C1088,1430 1078,1455 1065,1475 C1055,1492 1045,1507 1030,1520 C1020,1532 1010,1542 1000,1550 L807.5,1665"/>
<path d="M1142.5,1212.5 L1167,1199 L1189.2,1210.1 L1165,1223.8 Z"/>
<path d="M1176.1,1192.5 L1404.8,1060.5 L1427,1072.9 L1199,1205.5 Z"/>
<path d="M1176.1,1192.5 L1176.1,1203 L1189.2,1210.1 L1189.2,1270 M1199,1205.5 L1199,1270"/>
<path d="M1200,1270 C1200,1274 1197,1276 1193,1276 C1188,1277 1186,1280 1187,1285 C1189,1290 1193,1292 1197,1290"/>
<path d="M1195,1290 L1277.5,1332.5"/>
<path d="M1347.5,1327.5 L1395,1305 M1430,1380 L1480,1357.5"/>
<path d="M1680,1135 L1725,1115 M1789.4,1194.3 L1839.5,1171.8"/>
<path d="M1642.5,1025 L1727.5,1070"/>
<path d="M1625,1015 C1635,1030 1642,1040 1660,1040"/>
<path d="M1665,1027.5 L1655,1037 M1685,1042.5 L1675,1050"/>
<!-- lower bracket under tank frame -->
<path stroke-width="2.4" d="M887,1160.8 L905.5,1172 L907.3,1201.5 L914.7,1206 L972,1162.7"/>
<path stroke-width="2.4" d="M981.3,1153.4 L1019.2,1123.8 L1017.4,1088.7 C1016,1084 1014,1082 1010.9,1081.3 L996.1,1073.9"/>
<path stroke-width="1.2" d="M888.8,1157 L907.3,1166.4 C910,1168 912,1170 912,1172 L913.8,1203.4 M912.9,1166.4 L940.6,1145 M950.8,1136.8 L1010.9,1088.7"/>
</g>
<path stroke-width="1.4" d="M962,1137 C964,1132 968,1131 972,1132 C976,1135 977,1142 975,1150 M967,1146 C966,1140 968,1136 970,1135"/>
<!-- washers 6 -->
<g>
<ellipse cx="1759" cy="1091" rx="26" ry="34" transform="rotate(30 1759 1091)" stroke-width="2.6"/>
<path stroke-width="1.1" d="M1752,1072 C1742,1080 1737,1095 1738,1110 C1738,1115 1740,1118 1742,1120"/>
<ellipse cx="1761.5" cy="1093" rx="12" ry="20" transform="rotate(35 1761.5 1093)" stroke-width="2.6"/>
<path stroke-width="2.2" d="M1767,1077 L1768,1088 M1750,1105 C1755,1104 1760,1101 1764,1096"/>
<ellipse cx="1309" cy="1351" rx="26" ry="34" transform="rotate(30 1309 1351)" stroke-width="2.6"/>
<path stroke-width="1.1" d="M1302,1332 C1292,1340 1287,1355 1288,1370 C1288,1375 1290,1378 1292,1380"/>
<ellipse cx="1311.5" cy="1353" rx="12" ry="20" transform="rotate(35 1311.5 1353)" stroke-width="2.6"/>
<path stroke-width="2.2" d="M1317,1337 L1318,1348 M1300,1365 C1305,1364 1310,1361 1314,1356"/>
</g>
<g stroke-width="2.8">
<path d="M1817.5,1106.2 L1875.6,1139.0 M1799.7,1136.2 L1858.7,1168.0"/>
<path d="M1817.5,1106.2 C1810.0,1107.0 1803.0,1112.0 1800.6,1117.5 C1798.5,1123.0 1798.5,1130.0 1799.7,1136.2"/>
<path d="M1875.6,1139.0 L1893.4,1135.3 L1909.3,1143.7 C1912.0,1148.0 1913.5,1152.0 1913.0,1157.8 C1913.0,1165.0 1912.0,1170.0 1909.3,1173.7 L1893.4,1190.6 C1888.0,1193.0 1884.0,1193.5 1879.3,1193.4 L1864.3,1186.8 L1860.6,1170.9 L1858.7,1168.0"/>
</g>
<g stroke-width="1.4">
<path d="M1877.4,1142.8 L1885.9,1148.4 L1906.5,1147.5 M1885.9,1148.4 L1877.4,1171.8 L1860.6,1168.0 M1877.4,1171.8 L1878.4,1192.5 M1873.7,1142.8 L1860.6,1166.2"/>
<path d="M1817.0,1107.9 C1811.0,1110.9 1808.0,1117.9 1809.5,1126.9"/>
<path d="M1823.5,1111.6 C1817.5,1114.6 1814.5,1121.6 1816.0,1130.6"/>
<path d="M1830.0,1115.3 C1824.0,1118.3 1821.0,1125.3 1822.5,1134.3"/>
<path d="M1837.0,1119.2 C1831.0,1122.2 1828.0,1129.2 1829.5,1138.2"/>
<path d="M1844.5,1123.4 C1838.5,1126.4 1835.5,1133.4 1837.0,1142.4"/>
<path d="M1852.0,1127.7 C1846.0,1130.7 1843.0,1137.7 1844.5,1146.7"/>
<path d="M1821.0,1112.0 C1812.0,1116.0 1806.0,1125.0 1808.0,1136.0"/>
</g>
<g stroke-width="2.8">
<path d="M1368.5,1366.2 L1426.6,1399.0 M1350.7,1396.2 L1409.7,1428.0"/>
<path d="M1368.5,1366.2 C1361.0,1367.0 1354.0,1372.0 1351.6,1377.5 C1349.5,1383.0 1349.5,1390.0 1350.7,1396.2"/>
<path d="M1426.6,1399.0 L1444.4,1395.3 L1460.3,1403.7 C1463.0,1408.0 1464.5,1412.0 1464.0,1417.8 C1464.0,1425.0 1463.0,1430.0 1460.3,1433.7 L1444.4,1450.6 C1439.0,1453.0 1435.0,1453.5 1430.3,1453.4 L1415.3,1446.8 L1411.6,1430.9 L1409.7,1428.0"/>
</g>
<g stroke-width="1.4">
<path d="M1428.4,1402.8 L1436.9,1408.4 L1457.5,1407.5 M1436.9,1408.4 L1428.4,1431.8 L1411.6,1428.0 M1428.4,1431.8 L1429.4,1452.5 M1424.7,1402.8 L1411.6,1426.2"/>
<path d="M1368.0,1367.9 C1362.0,1370.9 1359.0,1377.9 1360.5,1386.9"/>
<path d="M1374.5,1371.6 C1368.5,1374.6 1365.5,1381.6 1367.0,1390.6"/>
<path d="M1381.0,1375.3 C1375.0,1378.3 1372.0,1385.3 1373.5,1394.3"/>
<path d="M1388.0,1379.2 C1382.0,1382.2 1379.0,1389.2 1380.5,1398.2"/>
<path d="M1395.5,1383.4 C1389.5,1386.4 1386.5,1393.4 1388.0,1402.4"/>
<path d="M1403.0,1387.7 C1397.0,1390.7 1394.0,1397.7 1395.5,1406.7"/>
<path d="M1372.0,1372.0 C1363.0,1376.0 1357.0,1385.0 1359.0,1396.0"/>
</g>


<!-- drain fitting 7 -->
<g stroke-width="2.8">
<path d="M451.7,1460.3 L451.7,1435 C453,1432 456,1430 462,1429.5 M478,1429.5 C483,1430 486,1432 487.5,1435 L487.5,1460.3"/>
<path d="M449.2,1448.6 L437.5,1461.5 L437.5,1480 L449.2,1490.5 C455,1493 462,1494.8 469,1494.8 C478,1494.8 486,1492 492.4,1489.9 L501.7,1480 L501.7,1460.9 L496.1,1452.9 L487.5,1447.4"/>
<path d="M446.8,1491 L446.8,1509.6 C448,1513 451,1515 452.9,1515.8 C458,1518 463,1518.9 469,1518.9 C475,1518.9 479,1518 482.5,1517 C486,1515 488,1513 489.9,1510.9 L489.9,1493.6"/>
<path d="M438.7,1535.5 L438.7,1562.7 C440,1566 442,1569 445.5,1571.3 C452,1575 460,1577.5 469,1577.5 C478,1577.5 486,1576 492.4,1572.5 C496,1570 499,1566 500.4,1560.2 L500.4,1535.5"/>
<path d="M438.7,1535.5 C440,1528 446,1524 455,1521 M485,1521 C493,1523 499,1528 500.4,1535.5"/>
<ellipse cx="470" cy="1537" rx="24" ry="13"/>
</g>
<g stroke-width="1.4">
<path d="M455,1438 C459,1442 464,1443 470,1443 C476,1443 481,1442 484,1438"/>
<path d="M455,1446 C459,1450 464,1451 470,1451 C476,1451 481,1450 484,1446"/>
<path d="M455,1455 C459,1460 464,1461 470,1461 C476,1461 481,1460 484,1455"/>
<path d="M451.7,1460.3 C455,1466 462,1470 470,1470 C478,1470 484,1466 487.5,1460.3"/>
<path d="M440.6,1465.2 L452.9,1475.1 L485,1475.1 L498.6,1465.2 M452.9,1475.1 L454,1490.8 M485,1475.1 L485,1490.8"/>
<path d="M450,1497 C455,1501 462,1503 469,1503 C476,1503 480,1502 484,1501"/>
<path d="M450,1507 C455,1510 462,1511 469,1511 C476,1511 481,1510 486,1507"/>
<path d="M441.8,1543 C450,1549 460,1552.8 469,1552.8 C480,1552.8 490,1549 496.1,1545.4"/>
<ellipse cx="470" cy="1541" rx="18.5" ry="7.5" stroke-width="2.2"/>
<path d="M444,1551.5 L454,1567.5 M453,1554 L444,1562.5 M460,1560 L468.5,1572.5 M478,1559.5 L485,1571 M491,1554 L495,1565 M496,1554 L489.5,1567.5"/>
<path d="M492.4,1491 C496,1494 499,1496 500,1499"/>
<ellipse cx="502.3" cy="1500" rx="3.5" ry="5.5"/>
<ellipse cx="506" cy="1517" rx="3.5" ry="5.5"/>
<ellipse cx="508.4" cy="1532" rx="3.5" ry="5.5"/>
<ellipse cx="507.2" cy="1550" rx="3.5" ry="5.5"/>
<path d="M470.2,1395 L470.2,1433.2"/>
<path d="M343.2,1457.6 L420.9,1469.6"/>
</g>

<!--PARTS-->
</g>
<g class="t">
<text transform="matrix(0.920 0 0 1 1416.85 312.75)" font-size="42.50">2</text>
<text transform="matrix(0.920 0 0 1 1550.61 537.50)" font-size="42.50">4</text>
<text transform="matrix(0.920 0 0 1 1573.94 757.58)" font-size="42.50">3</text>
<text transform="matrix(0.920 0 0 1 1355.36 826.00)" font-size="42.50">4</text>
<text transform="matrix(0.920 0 0 1 246.55 575.18)" font-size="42.50">8</text>
<text transform="matrix(0.920 0 0 1 359.80 655.08)" font-size="42.50">9</text>
<text transform="matrix(0.920 0 0 1 1119.09 252.50)" font-size="42.50">1</text>
<text transform="matrix(0.920 0 0 1 2621.19 188.75)" font-size="42.50">11</text>
<text transform="matrix(0.920 0 0 1 2612.56 562.08)" font-size="42.50" letter-spacing="3.5">10</text>
<text transform="matrix(0.920 0 0 1 2582.45 666.18)" font-size="42.50">9</text>
<text transform="matrix(0.920 0 0 1 2658.70 725.58)" font-size="42.50">8</text>
<text transform="matrix(0.920 0 0 1 312.70 1474.92)" font-size="42.50">7</text>
<text transform="matrix(0.920 0 0 1 1644.05 1164.58)" font-size="42.50">6</text>
<text transform="matrix(0.920 0 0 1 1756.55 1219.58)" font-size="42.50">5</text>
<text transform="matrix(0.920 0 0 1 1401.55 1307.08)" font-size="42.50">6</text>
<text transform="matrix(0.920 0 0 1 1489.05 1357.08)" font-size="42.50">5</text>
</g>
<g class="t">
<text x="220" y="1924.7" font-size="20" text-anchor="middle" letter-spacing="0.41">Volvo Construction</text>
<text x="217" y="1952.9" font-size="20" text-anchor="middle" letter-spacing="0.15">Equipment</text>
<text transform="matrix(0.987 0 0 1 143.33 1994.37)" font-size="38.38">1003436</text>
</g>
</svg>
</body></html>
